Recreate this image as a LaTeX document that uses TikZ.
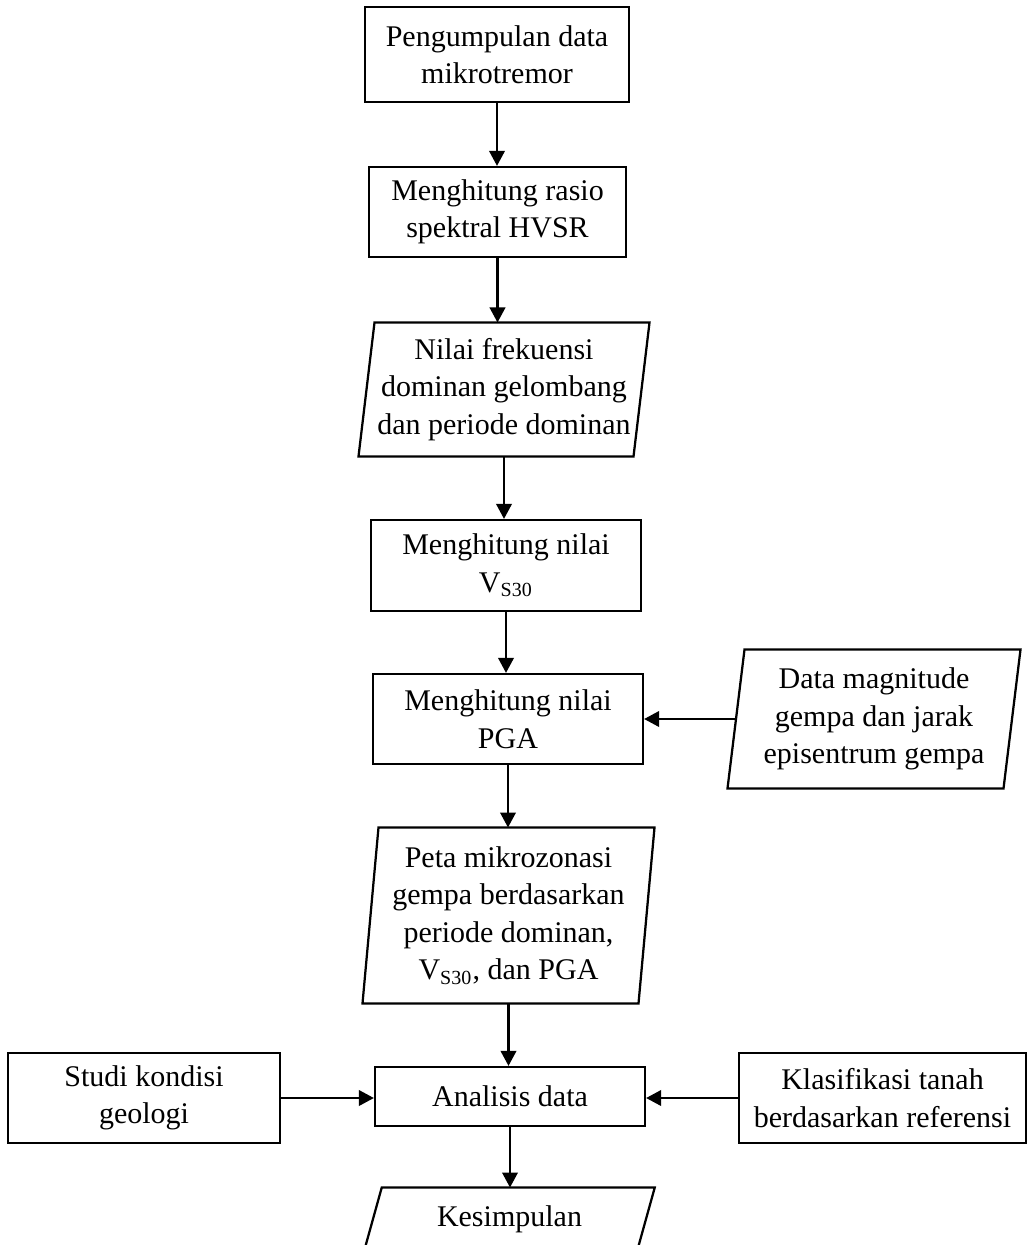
\documentclass[tikz,border=0pt]{standalone}
\usepackage{fontspec}
\setmainfont{Liberation Serif}
\usetikzlibrary{arrows.meta}

\tikzset{
  box/.style={draw,rectangle,line width=0.9pt,align=center,inner sep=0pt,
    font=\fontsize{12pt}{15pt}\selectfont},
  iobox/.style={rectangle,align=center,inner sep=0pt,
    font=\fontsize{12pt}{15pt}\selectfont},
  arr/.style={line width=0.9pt,-{Triangle[length=6pt,width=6.2pt]}}
}
% parallelogram round an iobox node: #1 name, #2 half slant
\newcommand{\ioshape}[2]{%
  \draw[line width=0.9pt] ([xshift=#2]#1.north west) -- ([xshift=#2]#1.north east)
    -- ([xshift=-#2]#1.south east) -- ([xshift=-#2]#1.south west) -- cycle;}

\begin{document}
\begin{tikzpicture}[x=0.4pt,y=-0.4pt]
    \useasboundingbox (0,0) rectangle (1028,1245);
    % main column
    \node[box,minimum width=105.6pt,minimum height=38pt] (mikro) at (497,54.5) {Pengumpulan data\\mikrotremor};
    \node[box,minimum width=102.8pt,minimum height=36pt] (hvsr) at (497.5,212) {Menghitung rasio\\spektral HVSR};
    \node[iobox,minimum width=109.6pt,minimum height=53.2pt] (frek) at (504,389.5) {Nilai frekuensi\\dominan gelombang\\dan periode dominan};
    \node[box,minimum width=108pt,minimum height=36.4pt] (vs) at (506,565.5) {Menghitung nilai\\V\textsubscript{S30}};
    \node[box,minimum width=108pt,minimum height=36pt] (pga) at (508,719) {Menghitung nilai\\PGA};
    \node[iobox,minimum width=110pt,minimum height=70pt] (peta) at (508.5,915.5) {Peta mikrozonasi\\gempa berdasarkan\\periode dominan,\\V\textsubscript{S30}, dan PGA};
    \node[box,minimum width=108pt,minimum height=23.6pt] (anal) at (510,1096.5) {Analisis data};
    \node[iobox,minimum width=108.8pt,minimum height=24.8pt] (kes) at (509.5,1219) {Kesimpulan};
    % side inputs
    \node[iobox,minimum width=110pt,minimum height=55.2pt] (data) at (874,719) {Data magnitude\\gempa dan jarak\\episentrum gempa};
    \node[box,minimum width=108.6pt,minimum height=36pt] (studi) at (144,1098) {Studi kondisi\\geologi};
    \node[box,minimum width=114.8pt,minimum height=36pt] (klas) at (882.5,1098) {Klasifikasi tanah\\berdasarkan referensi};

    \ioshape{frek}{3.2pt}
    \ioshape{peta}{3.2pt}
    \ioshape{data}{3.4pt}
    \ioshape{kes}{3.5pt}

    \draw[arr] (mikro.south) -- (mikro.south |- hvsr.north);
    \draw[arr] (hvsr.south) -- (hvsr.south |- frek.north);
    \draw[arr] (frek.south) -- (frek.south |- vs.north);
    \draw[arr] (vs.south) -- (vs.south |- pga.north);
    \draw[arr] (data.west) -- (data.west -| pga.east);
    \draw[arr] (pga.south) -- (pga.south |- peta.north);
    \draw[arr] (peta.south) -- (peta.south |- anal.north);
    \draw[arr] (studi.east) -- (studi.east -| anal.west);
    \draw[arr] (klas.west) -- (klas.west -| anal.east);
    \draw[arr] (anal.south) -- (anal.south |- kes.north);
\end{tikzpicture}
\end{document}
